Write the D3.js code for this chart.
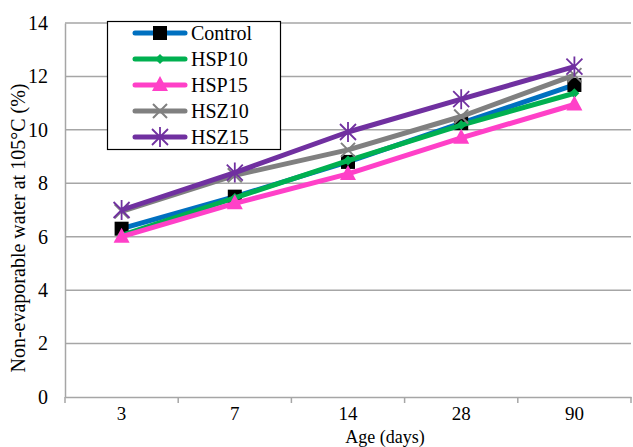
<!DOCTYPE html>
<html><head><meta charset="utf-8">
<script src="https://cdn.jsdelivr.net/npm/d3@7"></script>
<style>body{margin:0;background:#fff}svg{display:block}text{font-family:"Liberation Serif","Times New Roman",serif}</style>
</head><body>
<svg id="c" width="633" height="447"></svg>
<script>
const categories = ["3", "7", "14", "28", "90"];
const seriesNames = ["Control", "HSP10", "HSP15", "HSZ10", "HSZ15"];
const control = [6.3, 7.5, 8.8, 10.25, 11.68];
const hsp10 = [6.05, 7.45, 8.85, 10.18, 11.37];
const hsp15 = [6.0, 7.25, 8.35, 9.7, 10.95];
const hsz10 = [6.95, 8.3, 9.25, 10.5, 12.05];
const hsz15 = [7.0, 8.4, 9.92, 11.15, 12.37];
const yTicks = [0, 2, 4, 6, 8, 10, 12, 14];
const colors = ["#0070C0", "#00B050", "#FF40C8", "#808080", "#7030A0"];
const markers = ["square", "diamond", "triangle", "x", "star"];
const allValues = [control, hsp10, hsp15, hsz10, hsz15];

const svg = d3.select("#c");
const FS = 20;
const L = 65, R = 631, T = 23, B = 397;
const x = d3.scaleBand().domain(categories).range([L, R]);
const y = d3.scaleLinear().domain([0, 14]).range([B, T]);

// gridlines
svg.append("g").selectAll("line").data(yTicks.filter(d => d > 0)).join("line")
  .attr("x1", L).attr("x2", R).attr("y1", d => y(d)).attr("y2", d => y(d))
  .attr("stroke", "#A6A6A6").attr("stroke-width", 1.5);

// y axis
const ya = svg.append("g").attr("transform", `translate(${L},0)`)
  .call(d3.axisLeft(y).tickValues(yTicks).tickSize(0).tickPadding(17));
ya.attr("font-family", null).attr("font-size", null);
ya.select(".domain").attr("stroke", "#A6A6A6").attr("stroke-width", 1.5);
ya.selectAll("text").style("font-size", FS + "px").attr("fill", "#000");

// x axis
const xa = svg.append("g").attr("transform", `translate(0,${B})`)
  .call(d3.axisBottom(x).tickSize(0).tickPadding(10));
xa.attr("font-family", null).attr("font-size", null);
xa.select(".domain").attr("stroke", "#A6A6A6").attr("stroke-width", 1.5);
xa.selectAll("text").style("font-size", "19px").attr("fill", "#000");
const bounds = categories.map(c => x(c)).concat([x(categories[categories.length-1]) + x.bandwidth()]);
svg.append("g").selectAll("line").data(bounds).join("line")
  .attr("x1", d => d).attr("x2", d => d).attr("y1", B).attr("y2", B + 6)
  .attr("stroke", "#A6A6A6").attr("stroke-width", 1.5);

// titles
svg.append("text").attr("x", 385).attr("y", 443).attr("text-anchor", "middle")
  .style("font-size", "18px").text("Age (days)");
svg.append("text").attr("transform", "translate(25,228) rotate(-90)").attr("text-anchor", "middle")
  .style("font-size", FS + "px").text("Non-evaporable water at 105°C (%)");

function drawMarker(g, type, cx, cy, color) {
  if (type === "square") {
    g.append("rect").attr("x", cx - 7).attr("y", cy - 7).attr("width", 14).attr("height", 14).attr("fill", "#000");
  } else if (type === "diamond") {
    g.append("path").attr("d", `M${cx},${cy-5}L${cx+5},${cy}L${cx},${cy+5}L${cx-5},${cy}Z`).attr("fill", color);
  } else if (type === "triangle") {
    g.append("path").attr("d", `M${cx},${cy-9}L${cx+8},${cy+6}L${cx-8},${cy+6}Z`).attr("fill", color);
  } else if (type === "x") {
    g.append("path").attr("d", `M${cx-7},${cy-7}L${cx+7},${cy+7}M${cx-7},${cy+7}L${cx+7},${cy-7}`)
      .attr("stroke", color).attr("stroke-width", 2);
  } else if (type === "star") {
    g.append("path").attr("d", `M${cx-8},${cy-8}L${cx+8},${cy+8}M${cx-8},${cy+8}L${cx+8},${cy-8}M${cx},${cy-10}L${cx},${cy+10}`)
      .attr("stroke", color).attr("stroke-width", 1.8);
  }
}

const line = d3.line().x((d, i) => x(categories[i]) + x.bandwidth() / 2).y(d => y(d));
allValues.forEach((vals, si) => {
  const g = svg.append("g");
  g.append("path").datum(vals).attr("d", line).attr("fill", "none")
    .attr("stroke", colors[si]).attr("stroke-width", 5).attr("stroke-linejoin", "round");
  vals.forEach((v, i) => drawMarker(g, markers[si], x(categories[i]) + x.bandwidth() / 2, y(v), colors[si]));
});

// legend
const lg = svg.append("g");
lg.append("rect").attr("x", 107.5).attr("y", 21.5).attr("width", 173).attr("height", 128)
  .attr("fill", "#fff").attr("stroke", "#000").attr("stroke-width", 1.2);
seriesNames.forEach((n, i) => {
  const cy = 33 + i * 26;
  lg.append("line").attr("x1", 135).attr("x2", 185).attr("y1", cy).attr("y2", cy)
    .attr("stroke", colors[i]).attr("stroke-width", 5).attr("stroke-linecap", "round");
  drawMarker(lg, markers[i], 160, cy, colors[i]);
  lg.append("text").attr("x", 191).attr("y", cy + 7).style("font-size", FS + "px").text(n);
});
</script>
</body></html>
